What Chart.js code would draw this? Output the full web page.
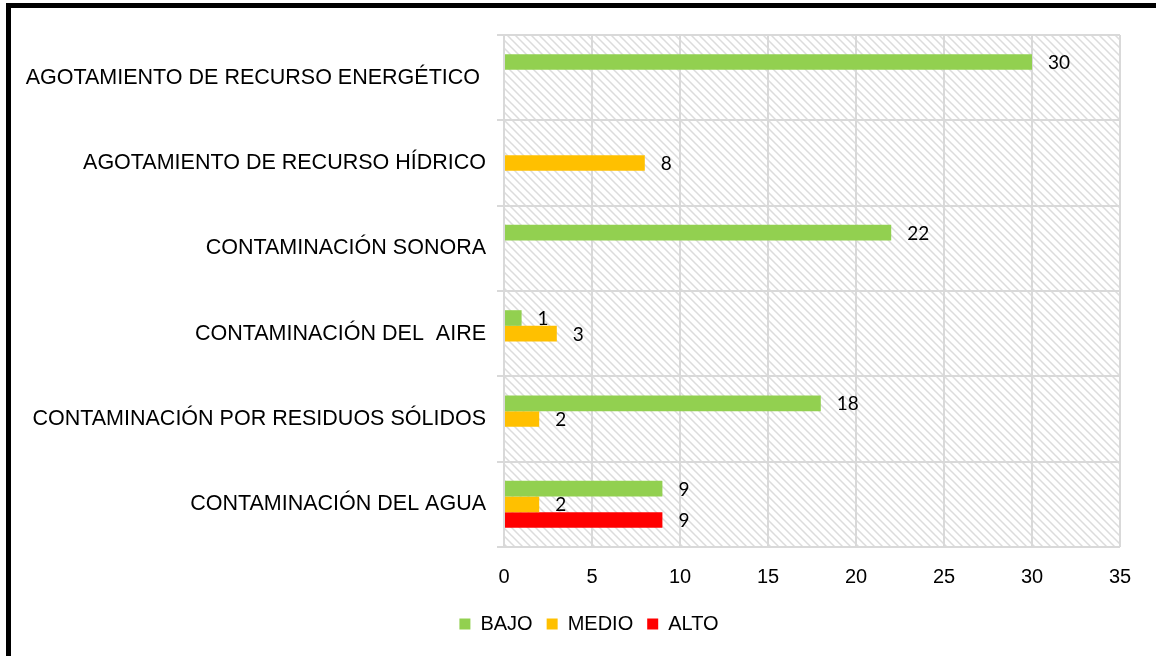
<!DOCTYPE html>
<html>
<head>
<meta charset="utf-8">
<script src="https://cdn.jsdelivr.net/npm/chart.js@4"></script>
<style>
  html, body { margin: 0; padding: 0; background: #fff; }
  #wrap { width: 1156px; height: 656px; position: relative; }
</style>
</head>
<body>
<div id="wrap"><canvas id="chart" width="1156" height="656"></canvas></div>
<script>
// categories, top to bottom
const categories = [
    "AGOTAMIENTO DE RECURSO ENERGÉTICO ",
    "AGOTAMIENTO DE RECURSO HÍDRICO",
    "CONTAMINACIÓN SONORA",
    "CONTAMINACIÓN DEL  AIRE",
    "CONTAMINACIÓN POR RESIDUOS SÓLIDOS",
    "CONTAMINACIÓN DEL AGUA"
];
const seriesNames = ["BAJO", "MEDIO", "ALTO"];
const bajo  = [30, null, 22, 1, 18, 9];
const medio = [null, 8, null, 3, 2, 2];
const alto  = [null, null, null, null, null, 9];
const xTicks = [0, 5, 10, 15, 20, 25, 30, 35];

const gridColor = "#d9d9d9";
const textFont = "'Liberation Sans', Arial, sans-serif";

// diagonal hatch for the plot background
function makeHatch() {
    const c = document.createElement("canvas");
    c.width = 8; c.height = 8;
    const g = c.getContext("2d");
    g.strokeStyle = "#dcdcdc";
    g.lineWidth = 1.5;
    g.beginPath();
    g.moveTo(-1, -1); g.lineTo(9, 9);
    g.moveTo(-1, 7); g.lineTo(1, 9);
    g.moveTo(7, -1); g.lineTo(9, 1);
    g.stroke();
    return g.createPattern(c, "repeat");
}

const hatchBg = {
    id: "hatchBg",
    beforeDraw(chart) {
        const { ctx, chartArea: a } = chart;
        ctx.save();
        ctx.fillStyle = makeHatch();
        ctx.fillRect(a.left, a.top, a.right - a.left, a.bottom - a.top);
        ctx.restore();
    }
};

// value labels to the right of each bar
const valueLabels = {
    id: "valueLabels",
    afterDatasetsDraw(chart) {
        const ctx = chart.ctx;
        ctx.save();
        ctx.font = "19px Lato, 'Open Sans', sans-serif";
        ctx.fillStyle = "#000";
        ctx.textAlign = "left";
        ctx.textBaseline = "middle";
        chart.data.datasets.forEach((ds, i) => {
            chart.getDatasetMeta(i).data.forEach((bar, j) => {
                const v = ds.data[j];
                if (v === null) return;
                ctx.fillText(String(v), bar.x + 16, bar.y + 1);
            });
        });
        ctx.restore();
    }
};

// black frame at the top and left edge
const frame = {
    id: "frame",
    afterDraw(chart) {
        const ctx = chart.ctx;
        ctx.save();
        ctx.fillStyle = "#000";
        ctx.fillRect(6, 3, 1156, 5);
        ctx.fillRect(6, 3, 5, 656);
        ctx.restore();
    }
};

new Chart(document.getElementById("chart"), {
    type: "bar",
    data: {
        labels: categories,
        datasets: [
            { label: seriesNames[0], data: bajo,  backgroundColor: "#92d050" },
            { label: seriesNames[1], data: medio, backgroundColor: "#ffc000" },
            { label: seriesNames[2], data: alto,  backgroundColor: "#ff0000" }
        ]
    },
    options: {
        indexAxis: "y",
        responsive: false,
        animation: false,
        categoryPercentage: 0.55,
        barPercentage: 1.0,
        layout: { padding: { left: 22, right: 0, top: 35, bottom: 12 } },
        scales: {
            x: {
                min: 0,
                max: 35,
                afterBuildTicks: s => { s.ticks = xTicks.map(v => ({ value: v })); },
                afterFit: s => { s.height = 53; },
                grid: { color: gridColor, lineWidth: 2, drawTicks: false },
                border: { display: false },
                ticks: {
                    color: "#000",
                    padding: 18,
                    font: { family: textFont, size: 20 }
                }
            },
            y: {
                afterFit: s => { s.width = 504 - 22; },
                grid: { color: gridColor, lineWidth: 2, tickLength: 7, offset: true },
                border: { display: false },
                ticks: {
                    color: "#000",
                    padding: 11,
                    font: { family: textFont, size: 21.5 }
                }
            },
            spacer: {
                axis: "y",
                position: "right",
                type: "linear",
                afterFit: s => { s.width = 36; },
                grid: { display: false },
                border: { display: false },
                ticks: { display: false }
            }
        },
        plugins: {
            legend: {
                position: "bottom",
                labels: {
                    color: "#000",
                    boxWidth: 11,
                    boxHeight: 11,
                    padding: 14,
                    font: { family: textFont, size: 20 }
                }
            },
            tooltip: { enabled: false }
        }
    },
    plugins: [hatchBg, valueLabels, frame]
});
</script>
</body>
</html>
